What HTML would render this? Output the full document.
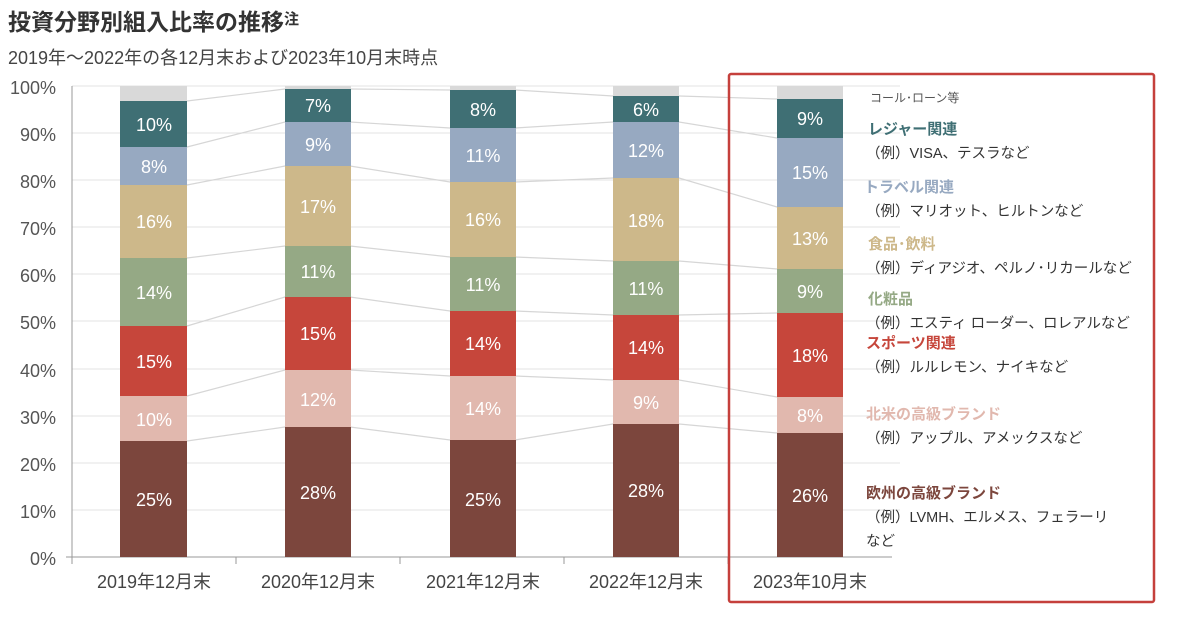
<!DOCTYPE html>
<html><head><meta charset="utf-8"><style>
body{margin:0;width:1200px;height:620px;background:#fff;overflow:hidden;font-family:"Liberation Sans","Noto Sans CJK JP",sans-serif;}
</style></head><body>
<svg width="1200" height="620" xmlns="http://www.w3.org/2000/svg" font-family="Liberation Sans, Noto Sans CJK JP, sans-serif">
<text x="8" y="30" font-size="23" font-weight="bold" fill="#333">投資分野別組入比率の推移<tspan font-size="15" dy="-6">注</tspan></text>
<text x="8" y="64" font-size="18" fill="#444">2019年〜2022年の各12月末および2023年10月末時点</text>
<g stroke="#e3e3e3" stroke-width="1">
<line x1="72" y1="86" x2="900" y2="86"/><line x1="72" y1="133" x2="900" y2="133"/><line x1="72" y1="180" x2="900" y2="180"/><line x1="72" y1="227" x2="900" y2="227"/><line x1="72" y1="274" x2="900" y2="274"/><line x1="72" y1="321" x2="900" y2="321"/><line x1="72" y1="369" x2="900" y2="369"/><line x1="72" y1="416" x2="900" y2="416"/><line x1="72" y1="463" x2="900" y2="463"/><line x1="72" y1="510" x2="900" y2="510"/>
</g>
<g fill="#555" font-size="18" text-anchor="end">
<text x="56" y="94">100%</text><text x="56" y="141">90%</text><text x="56" y="188">80%</text><text x="56" y="235">70%</text><text x="56" y="282">60%</text><text x="56" y="329">50%</text><text x="56" y="377">40%</text><text x="56" y="424">30%</text><text x="56" y="471">20%</text><text x="56" y="518">10%</text><text x="56" y="565">0%</text>
</g>
<g stroke="#999" stroke-width="1"><line x1="72" y1="86" x2="72" y2="564"/><line x1="66" y1="557" x2="892" y2="557"/>
<line x1="236" y1="557" x2="236" y2="564"/><line x1="400" y1="557" x2="400" y2="564"/><line x1="564" y1="557" x2="564" y2="564"/><line x1="728" y1="557" x2="728" y2="564"/></g>
<g stroke="#d6d6d6" stroke-width="1.2" fill="none">
<polyline points="187,101 285,89 350,89 450,90 515,90 613,96 679,96 777,99"/>
<polyline points="187,147 285,122 350,122 450,128 515,128 613,122 679,122 777,138"/>
<polyline points="187,185 285,166 350,166 450,182 515,182 613,178 679,178 777,207"/>
<polyline points="187,258 285,246 350,246 450,257 515,257 613,261 679,261 777,269"/>
<polyline points="187,326 285,297 350,297 450,311 515,311 613,315 679,315 777,313"/>
<polyline points="187,396 285,370 350,370 450,376 515,376 613,380 679,380 777,397"/>
<polyline points="187,441 285,427 350,427 450,440 515,440 613,424 679,424 777,433"/>
</g>
<g>
<rect x="120" y="86" width="67" height="15" fill="#d9d9d9"/><rect x="120" y="101" width="67" height="46" fill="#3f6f74"/><rect x="120" y="147" width="67" height="38" fill="#97a9c1"/><rect x="120" y="185" width="67" height="73" fill="#cdb88a"/><rect x="120" y="258" width="67" height="68" fill="#95a985"/><rect x="120" y="326" width="67" height="70" fill="#c6463b"/><rect x="120" y="396" width="67" height="45" fill="#e1b8ae"/><rect x="120" y="441" width="67" height="116" fill="#7c463d"/>
<rect x="285" y="86" width="66" height="3" fill="#d9d9d9"/><rect x="285" y="89" width="66" height="33" fill="#3f6f74"/><rect x="285" y="122" width="66" height="44" fill="#97a9c1"/><rect x="285" y="166" width="66" height="80" fill="#cdb88a"/><rect x="285" y="246" width="66" height="51" fill="#95a985"/><rect x="285" y="297" width="66" height="73" fill="#c6463b"/><rect x="285" y="370" width="66" height="57" fill="#e1b8ae"/><rect x="285" y="427" width="66" height="130" fill="#7c463d"/>
<rect x="450" y="86" width="66" height="4" fill="#d9d9d9"/><rect x="450" y="90" width="66" height="38" fill="#3f6f74"/><rect x="450" y="128" width="66" height="54" fill="#97a9c1"/><rect x="450" y="182" width="66" height="75" fill="#cdb88a"/><rect x="450" y="257" width="66" height="54" fill="#95a985"/><rect x="450" y="311" width="66" height="65" fill="#c6463b"/><rect x="450" y="376" width="66" height="64" fill="#e1b8ae"/><rect x="450" y="440" width="66" height="117" fill="#7c463d"/>
<rect x="613" y="86" width="66" height="10" fill="#d9d9d9"/><rect x="613" y="96" width="66" height="26" fill="#3f6f74"/><rect x="613" y="122" width="66" height="56" fill="#97a9c1"/><rect x="613" y="178" width="66" height="83" fill="#cdb88a"/><rect x="613" y="261" width="66" height="54" fill="#95a985"/><rect x="613" y="315" width="66" height="65" fill="#c6463b"/><rect x="613" y="380" width="66" height="44" fill="#e1b8ae"/><rect x="613" y="424" width="66" height="133" fill="#7c463d"/>
<rect x="777" y="86" width="66" height="13" fill="#d9d9d9"/><rect x="777" y="99" width="66" height="39" fill="#3f6f74"/><rect x="777" y="138" width="66" height="69" fill="#97a9c1"/><rect x="777" y="207" width="66" height="62" fill="#cdb88a"/><rect x="777" y="269" width="66" height="44" fill="#95a985"/><rect x="777" y="313" width="66" height="84" fill="#c6463b"/><rect x="777" y="397" width="66" height="36" fill="#e1b8ae"/><rect x="777" y="433" width="66" height="124" fill="#7c463d"/>
</g>
<g fill="#fff" font-size="18" text-anchor="middle">
<text x="154" y="131">10%</text><text x="154" y="173">8%</text><text x="154" y="228">16%</text><text x="154" y="299">14%</text><text x="154" y="368">15%</text><text x="154" y="426">10%</text><text x="154" y="506">25%</text>
<text x="318" y="112">7%</text><text x="318" y="151">9%</text><text x="318" y="213">17%</text><text x="318" y="278">11%</text><text x="318" y="340">15%</text><text x="318" y="406">12%</text><text x="318" y="499">28%</text>
<text x="483" y="116">8%</text><text x="483" y="162">11%</text><text x="483" y="226">16%</text><text x="483" y="291">11%</text><text x="483" y="350">14%</text><text x="483" y="415">14%</text><text x="483" y="506">25%</text>
<text x="646" y="116">6%</text><text x="646" y="157">12%</text><text x="646" y="227">18%</text><text x="646" y="295">11%</text><text x="646" y="354">14%</text><text x="646" y="409">9%</text><text x="646" y="497">28%</text>
<text x="810" y="125">9%</text><text x="810" y="179">15%</text><text x="810" y="245">13%</text><text x="810" y="298">9%</text><text x="810" y="362">18%</text><text x="810" y="422">8%</text><text x="810" y="502">26%</text>
</g>
<g fill="#444" font-size="18" text-anchor="middle">
<text x="154" y="588">2019年12月末</text><text x="318" y="588">2020年12月末</text><text x="483" y="588">2021年12月末</text><text x="646" y="588">2022年12月末</text><text x="810" y="588">2023年10月末</text>
</g>
<rect x="729" y="74" width="425" height="528" fill="none" stroke="#c5403c" stroke-width="2.5" rx="2"/>
<g font-size="15">
<text x="870" y="102" font-size="12" fill="#555">コール･ローン等</text>
<text x="868" y="134" fill="#3f6f74" font-weight="bold">レジャー関連</text>
<text x="866" y="158" fill="#333" font-size="14.5">（例）VISA、テスラなど</text>
<text x="864" y="192" fill="#97a9c1" font-weight="bold">トラベル関連</text>
<text x="866" y="216" fill="#333" font-size="14.5">（例）マリオット、ヒルトンなど</text>
<text x="868" y="249" fill="#cdb88a" font-weight="bold">食品･飲料</text>
<text x="866" y="273" fill="#333" font-size="14.5">（例）ディアジオ、ペルノ･リカールなど</text>
<text x="868" y="304" fill="#95a985" font-weight="bold">化粧品</text>
<text x="866" y="328" fill="#333" font-size="14.5">（例）エスティ ローダー、ロレアルなど</text>
<text x="866" y="348" fill="#c6463b" font-weight="bold">スポーツ関連</text>
<text x="866" y="372" fill="#333" font-size="14.5">（例）ルルレモン、ナイキなど</text>
<text x="866" y="419" fill="#e1b8ae" font-weight="bold">北米の高級ブランド</text>
<text x="866" y="443" fill="#333" font-size="14.5">（例）アップル、アメックスなど</text>
<text x="866" y="498" fill="#7c463d" font-weight="bold">欧州の高級ブランド</text>
<text x="866" y="522" fill="#333" font-size="14.5">（例）LVMH、エルメス、フェラーリ</text>
<text x="866" y="546" fill="#333" font-size="14.5">など</text>
</g>
</svg>
</body></html>
